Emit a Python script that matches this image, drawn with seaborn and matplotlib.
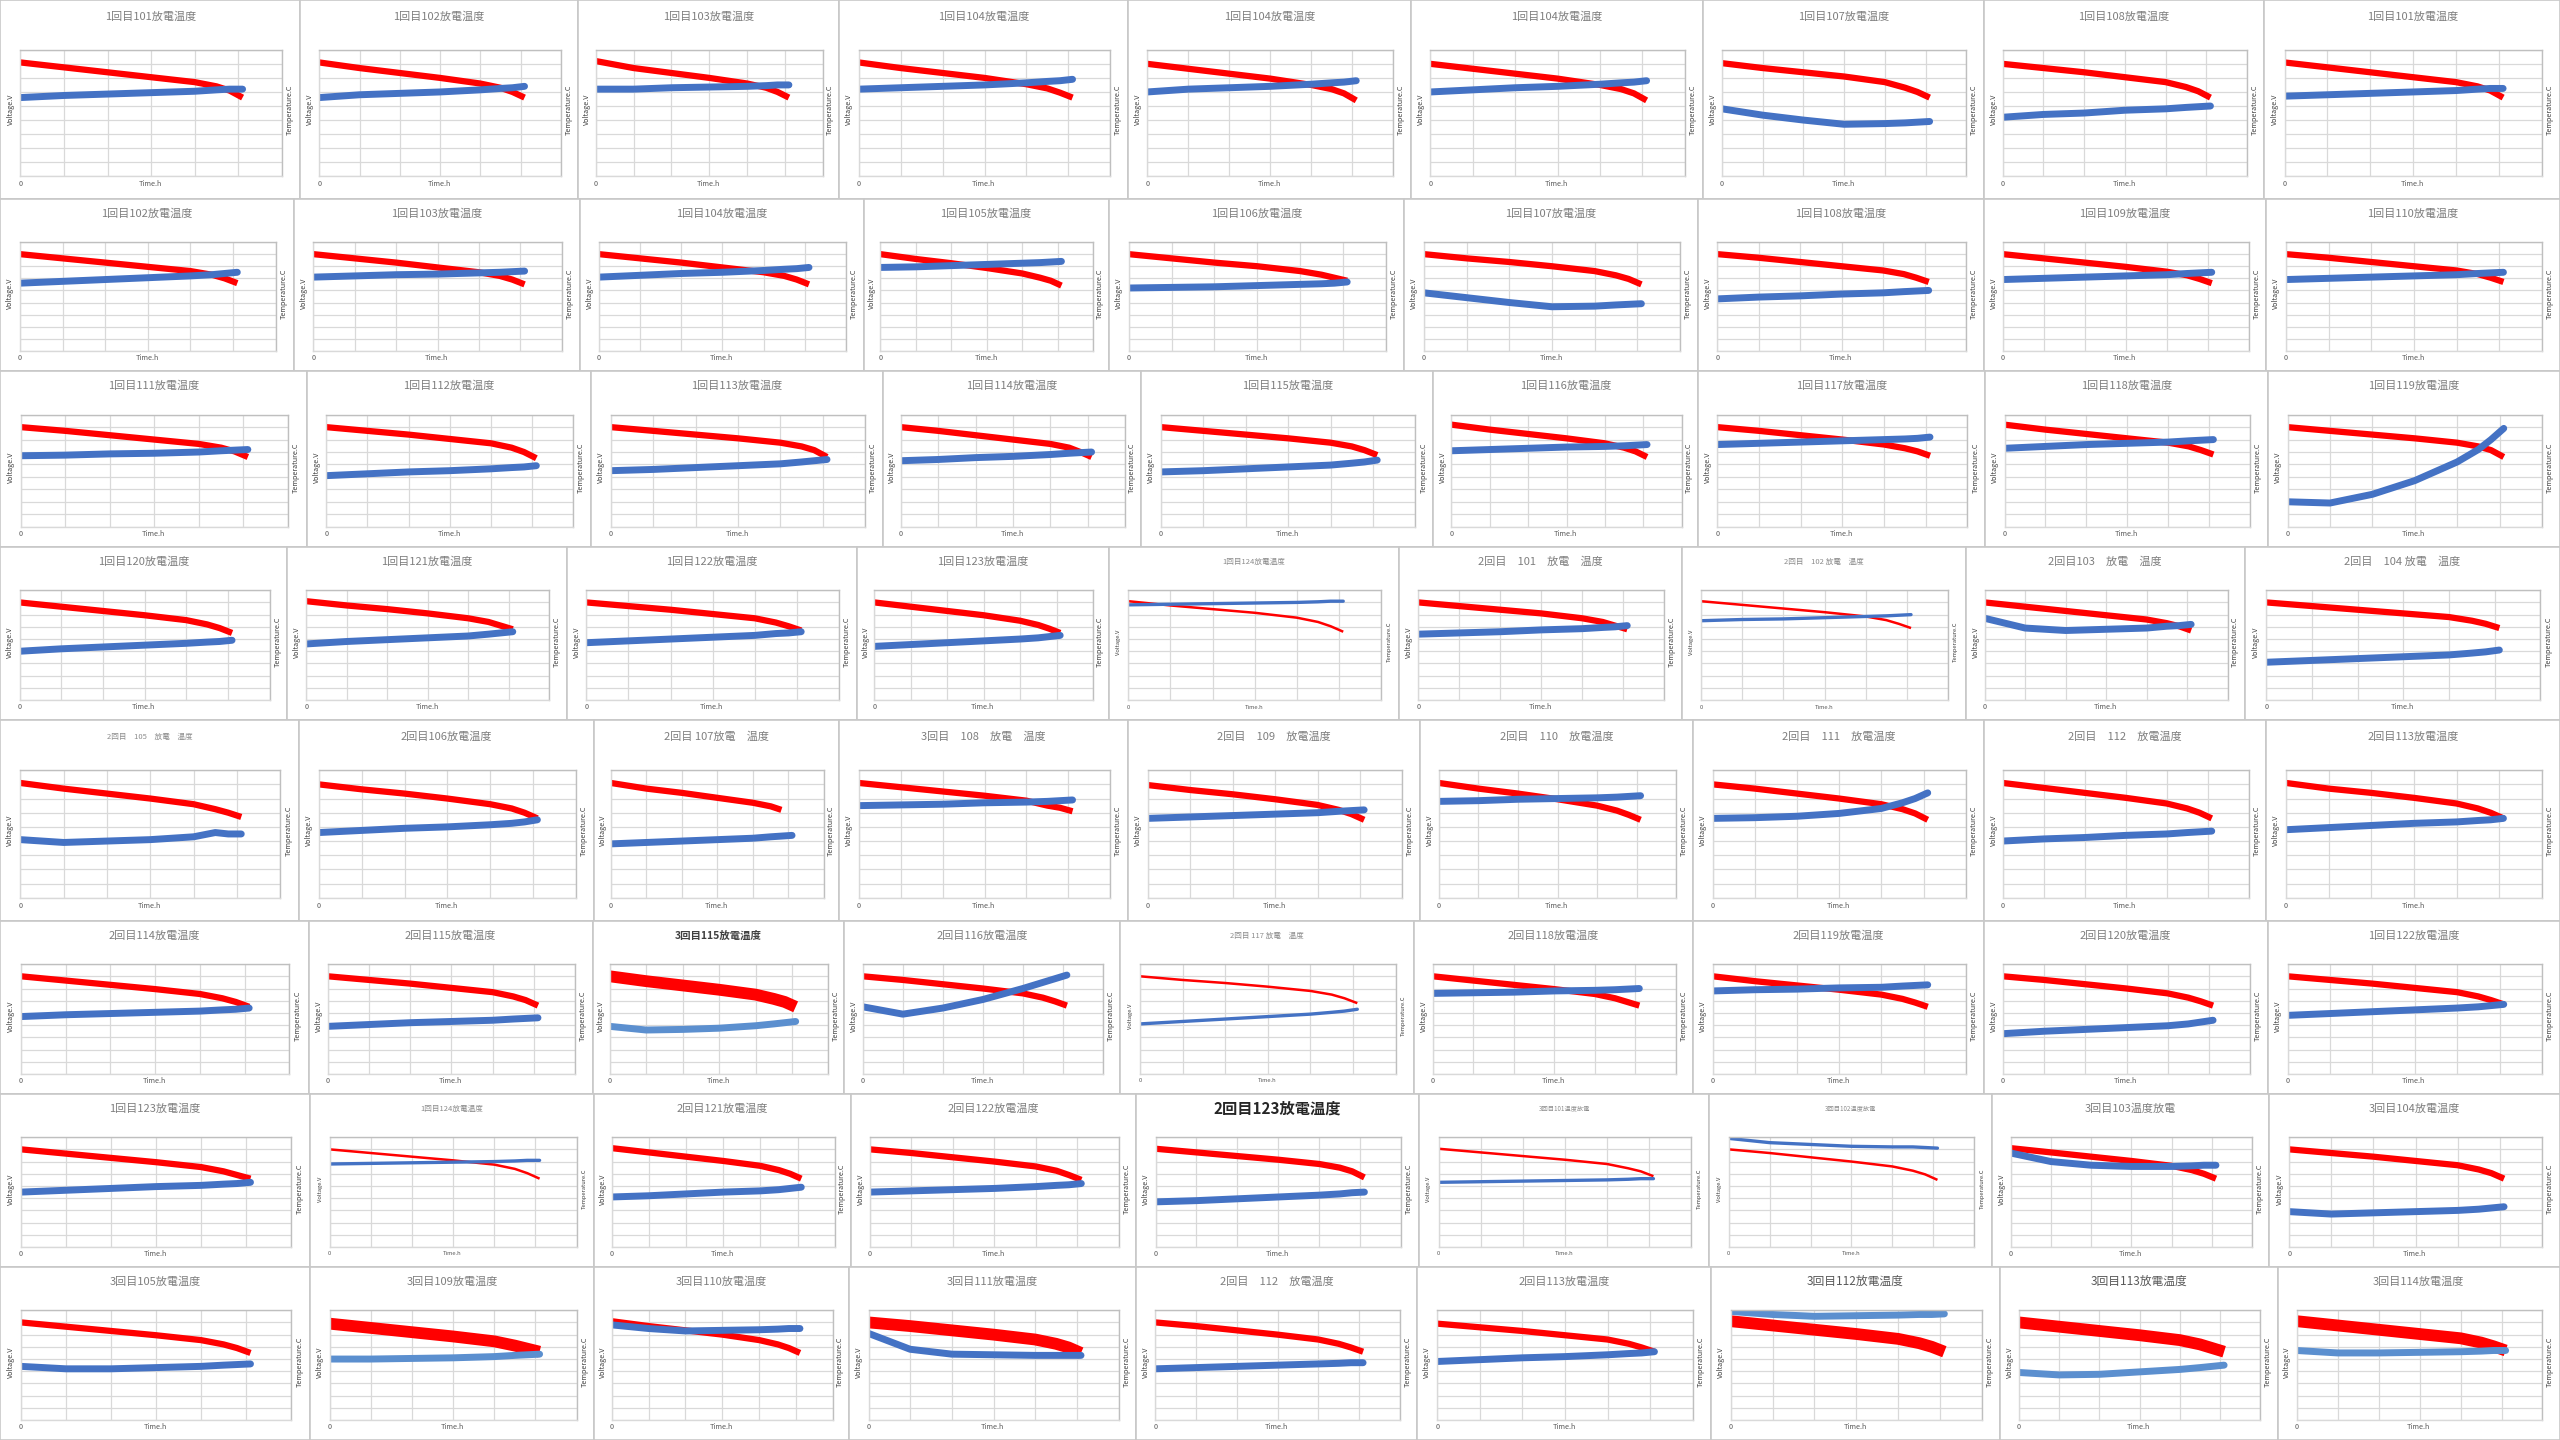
import numpy as np
import pandas as pd
import seaborn as sns
import matplotlib.pyplot as plt

sns.set_theme(style='white')
plt.rcParams['font.family'] = ['Noto Sans CJK JP', 'DejaVu Sans']

# sample times (h) shared by every panel
TIME = [0, 1, 2, 3, 4, 4.5, 4.8, 5.1]

TITLES = [
    '1回目101放電温度', '1回目102放電温度', '1回目103放電温度', '1回目104放電温度', '1回目104放電温度',
    '1回目104放電温度', '1回目107放電温度', '1回目108放電温度', '1回目101放電温度',
    '1回目102放電温度', '1回目103放電温度', '1回目104放電温度', '1回目105放電温度', '1回目106放電温度',
    '1回目107放電温度', '1回目108放電温度', '1回目109放電温度', '1回目110放電温度',
    '1回目111放電温度', '1回目112放電温度', '1回目113放電温度', '1回目114放電温度', '1回目115放電温度',
    '1回目116放電温度', '1回目117放電温度', '1回目118放電温度', '1回目119放電温度',
    '1回目120放電温度', '1回目121放電温度', '1回目122放電温度', '1回目123放電温度', '1回目124放電温度',
    '2回目　101　放電　温度', '2回目　102 放電　温度', '2回目103　放電　温度', '2回目　104 放電　温度',
    '2回目　105　放電　温度', '2回目106放電温度', '2回目 107放電　温度', '3回目　108　放電　温度',
    '2回目　109　放電温度', '2回目　110　放電温度', '2回目　111　放電温度', '2回目　112　放電温度', '2回目113放電温度',
    '2回目114放電温度', '2回目115放電温度', '3回目115放電温度', '2回目116放電温度', '2回目 117 放電　温度',
    '2回目118放電温度', '2回目119放電温度', '2回目120放電温度', '1回目122放電温度',
    '1回目123放電温度', '1回目124放電温度', '2回目121放電温度', '2回目122放電温度', '2回目123放電温度',
    '3回目101温度放電', '3回目102温度放電', '3回目103温度放電', '3回目104放電温度',
    '3回目105放電温度', '3回目109放電温度', '3回目110放電温度', '3回目111放電温度', '2回目　112　放電温度',
    '2回目113放電温度', '3回目112放電温度', '3回目113放電温度', '3回目114放電温度',
]

# voltage (red) in grid units, 0 = bottom gridline, 9 = top
VOLTAGE = [
    [8.1, 7.75, 7.4, 7.05, 6.7, 6.4, 6.1, 5.6], [8.1, 7.7, 7.35, 7.0, 6.6, 6.3, 6.0, 5.6],
    [8.2, 7.7, 7.35, 7.0, 6.6, 6.3, 6.0, 5.6], [8.1, 7.7, 7.35, 7.0, 6.55, 6.25, 5.95, 5.6],
    [8.0, 7.65, 7.3, 6.95, 6.5, 6.2, 5.9, 5.4], [8.0, 7.65, 7.3, 6.95, 6.5, 6.2, 5.9, 5.4],
    [8.05, 7.7, 7.4, 7.1, 6.7, 6.3, 6.0, 5.6], [8.0, 7.7, 7.4, 7.05, 6.7, 6.35, 6.05, 5.6],
    [8.1, 7.75, 7.4, 7.05, 6.7, 6.4, 6.1, 5.6],
    [8.0, 7.65, 7.3, 6.95, 6.6, 6.3, 6.0, 5.6], [8.0, 7.65, 7.3, 6.9, 6.5, 6.2, 5.9, 5.5],
    [8.0, 7.65, 7.3, 6.9, 6.5, 6.2, 5.9, 5.5], [8.0, 7.6, 7.25, 6.85, 6.4, 6.05, 5.8, 5.4],
    [8.0, 7.65, 7.3, 7.0, 6.6, 6.3, 6.05, 5.8], [8.0, 7.65, 7.35, 7.0, 6.6, 6.25, 5.95, 5.5],
    [8.0, 7.7, 7.35, 7.0, 6.65, 6.35, 6.05, 5.7], [8.0, 7.65, 7.3, 6.95, 6.55, 6.25, 5.95, 5.6],
    [8.0, 7.7, 7.35, 7.0, 6.65, 6.35, 6.05, 5.7],
    [8.0, 7.7, 7.35, 7.0, 6.65, 6.35, 6.05, 5.6], [8.0, 7.7, 7.4, 7.05, 6.7, 6.35, 6.0, 5.5],
    [8.0, 7.7, 7.4, 7.1, 6.75, 6.45, 6.15, 5.6], [8.0, 7.7, 7.35, 7.0, 6.65, 6.35, 6.0, 5.6],
    [8.0, 7.7, 7.4, 7.1, 6.75, 6.45, 6.15, 5.75], [8.2, 7.8, 7.45, 7.1, 6.7, 6.35, 6.05, 5.6],
    [8.0, 7.7, 7.35, 7.0, 6.6, 6.3, 6.05, 5.7], [8.2, 7.8, 7.45, 7.1, 6.75, 6.45, 6.15, 5.8],
    [8.0, 7.7, 7.4, 7.1, 6.75, 6.45, 6.15, 5.6],
    [8.0, 7.65, 7.3, 6.95, 6.55, 6.2, 5.9, 5.5], [8.1, 7.75, 7.45, 7.1, 6.7, 6.4, 6.1, 5.8],
    [8.0, 7.7, 7.4, 7.05, 6.7, 6.35, 6.05, 5.7], [8.0, 7.65, 7.3, 6.95, 6.5, 6.15, 5.85, 5.5],
    [8.1, 7.75, 7.45, 7.15, 6.75, 6.4, 6.05, 5.6], [8.0, 7.7, 7.4, 7.1, 6.7, 6.4, 6.1, 5.8],
    [8.1, 7.8, 7.5, 7.2, 6.85, 6.55, 6.25, 5.9], [8.0, 7.65, 7.3, 6.95, 6.6, 6.3, 6.05, 5.7],
    [8.0, 7.7, 7.4, 7.1, 6.8, 6.5, 6.25, 5.9],
    [8.1, 7.7, 7.35, 7.0, 6.6, 6.25, 6.0, 5.7], [8.0, 7.65, 7.35, 7.0, 6.6, 6.3, 6.0, 5.6],
    [8.1, 7.7, 7.4, 7.05, 6.7, 6.45, 6.2, np.nan], [8.1, 7.8, 7.5, 7.2, 6.85, 6.5, 6.35, 6.1],
    [7.95, 7.6, 7.3, 6.95, 6.55, 6.2, 5.9, 5.5], [8.1, 7.7, 7.35, 6.95, 6.5, 6.15, 5.85, 5.5],
    [8.0, 7.7, 7.35, 7.0, 6.6, 6.25, 5.95, 5.5], [8.1, 7.75, 7.4, 7.05, 6.65, 6.3, 6.0, 5.6],
    [8.1, 7.7, 7.4, 7.05, 6.65, 6.3, 6.0, 5.6],
    [8.0, 7.65, 7.3, 6.95, 6.55, 6.2, 5.9, 5.5], [8.0, 7.7, 7.4, 7.05, 6.7, 6.35, 6.05, 5.6],
    [8.0, 7.6, 7.25, 6.9, 6.5, 6.15, 5.9, 5.5], [8.0, 7.7, 7.35, 7.0, 6.6, 6.25, 5.95, 5.6],
    [8.0, 7.7, 7.45, 7.15, 6.8, 6.5, 6.2, 5.8], [8.0, 7.65, 7.3, 6.95, 6.55, 6.2, 5.9, 5.6],
    [8.0, 7.6, 7.25, 6.9, 6.5, 6.15, 5.85, 5.5], [8.0, 7.7, 7.35, 7.0, 6.6, 6.25, 5.95, 5.6],
    [8.0, 7.7, 7.4, 7.05, 6.7, 6.35, 6.05, 5.7],
    [8.0, 7.65, 7.3, 6.95, 6.55, 6.2, 5.9, 5.6], [8.0, 7.7, 7.4, 7.1, 6.75, 6.4, 6.05, 5.6],
    [8.1, 7.75, 7.4, 7.05, 6.65, 6.3, 6.0, 5.6], [8.0, 7.7, 7.35, 7.0, 6.6, 6.25, 5.9, 5.5],
    [8.05, 7.75, 7.45, 7.15, 6.8, 6.5, 6.2, 5.7], [8.05, 7.75, 7.45, 7.15, 6.8, 6.45, 6.2, 5.8],
    [8.0, 7.7, 7.35, 7.0, 6.6, 6.25, 5.95, 5.5], [8.1, 7.75, 7.4, 7.05, 6.65, 6.3, 6.0, 5.6],
    [8.0, 7.7, 7.4, 7.05, 6.7, 6.35, 6.05, 5.6],
    [8.0, 7.65, 7.3, 6.95, 6.55, 6.2, 5.9, 5.5], [7.9, 7.55, 7.2, 6.85, 6.45, 6.1, 5.85, 5.6],
    [8.1, 7.7, 7.35, 7.0, 6.55, 6.2, 5.9, 5.5], [8.0, 7.7, 7.35, 7.0, 6.6, 6.25, 5.95, 5.5],
    [8.0, 7.7, 7.35, 7.0, 6.6, 6.25, 5.95, 5.6], [7.9, 7.6, 7.3, 6.95, 6.6, 6.25, 5.95, 5.6],
    [8.1, 7.75, 7.4, 7.05, 6.65, 6.3, 6.0, 5.6], [8.0, 7.65, 7.3, 6.95, 6.55, 6.2, 5.9, 5.6],
    [8.1, 7.75, 7.4, 7.05, 6.7, 6.35, 6.05, 5.7],
]

# temperature (blue) in the same grid units
TEMPERATURE = [
    [5.6, 5.75, 5.85, 5.95, 6.05, 6.15, 6.2, 6.2], [5.6, 5.8, 5.9, 6.0, 6.15, 6.25, 6.3, 6.4],
    [6.2, 6.2, 6.3, 6.35, 6.4, 6.45, 6.5, 6.5], [6.2, 6.3, 6.4, 6.5, 6.65, 6.75, 6.8, 6.9],
    [6.0, 6.2, 6.3, 6.4, 6.55, 6.65, 6.7, 6.8], [6.0, 6.15, 6.3, 6.4, 6.55, 6.65, 6.7, 6.8],
    [4.8, 4.35, 4.0, 3.7, 3.75, 3.8, 3.85, 3.9], [4.2, 4.4, 4.5, 4.7, 4.8, 4.9, 4.95, 5.0],
    [5.7, 5.8, 5.9, 6.0, 6.1, 6.2, 6.25, 6.25],
    [5.6, 5.75, 5.9, 6.05, 6.2, 6.3, 6.4, 6.5], [6.1, 6.2, 6.3, 6.35, 6.45, 6.5, 6.55, 6.6],
    [6.1, 6.25, 6.4, 6.5, 6.65, 6.75, 6.8, 6.9], [6.9, 6.95, 7.05, 7.15, 7.25, 7.3, 7.35, 7.4],
    [5.2, 5.25, 5.3, 5.4, 5.5, 5.55, 5.6, 5.7], [4.8, 4.4, 4.0, 3.65, 3.7, 3.8, 3.85, 3.9],
    [4.3, 4.45, 4.55, 4.7, 4.8, 4.9, 4.95, 5.0], [5.9, 6.0, 6.1, 6.2, 6.3, 6.4, 6.45, 6.5],
    [5.9, 6.0, 6.1, 6.2, 6.3, 6.4, 6.45, 6.5],
    [5.7, 5.75, 5.85, 5.9, 6.0, 6.1, 6.15, 6.2], [4.1, 4.25, 4.4, 4.5, 4.65, 4.75, 4.8, 4.9],
    [4.5, 4.6, 4.75, 4.9, 5.05, 5.2, 5.3, 5.4], [5.3, 5.4, 5.55, 5.65, 5.8, 5.9, 5.95, 6.0],
    [4.4, 4.5, 4.65, 4.8, 4.95, 5.1, 5.2, 5.35], [6.1, 6.2, 6.3, 6.4, 6.45, 6.5, 6.55, 6.6],
    [6.6, 6.7, 6.8, 6.9, 7.0, 7.05, 7.1, 7.2], [6.3, 6.45, 6.6, 6.7, 6.8, 6.9, 6.95, 7.0],
    [2.0, 1.9, 2.6, 3.7, 5.2, 6.2, 7.0, 7.9],
    [4.0, 4.2, 4.35, 4.5, 4.65, 4.75, 4.8, 4.9], [4.6, 4.8, 4.95, 5.1, 5.25, 5.4, 5.5, 5.6],
    [4.7, 4.85, 5.0, 5.15, 5.3, 5.45, 5.5, 5.6], [4.4, 4.55, 4.7, 4.85, 5.0, 5.1, 5.2, 5.3],
    [7.8, 7.85, 7.9, 7.95, 8.0, 8.05, 8.1, 8.1], [5.4, 5.5, 5.6, 5.75, 5.85, 5.95, 6.0, 6.1],
    [6.5, 6.6, 6.65, 6.75, 6.85, 6.9, 6.95, 7.0], [6.7, 5.9, 5.7, 5.8, 5.9, 6.05, 6.1, 6.2],
    [3.1, 3.25, 3.4, 3.55, 3.7, 3.85, 3.95, 4.1],
    [4.1, 3.9, 4.0, 4.1, 4.3, 4.6, 4.5, 4.5], [4.6, 4.75, 4.9, 5.0, 5.15, 5.25, 5.35, 5.5],
    [3.8, 3.9, 4.0, 4.1, 4.2, 4.3, 4.35, 4.4], [6.5, 6.55, 6.6, 6.7, 6.75, 6.8, 6.85, 6.9],
    [5.6, 5.7, 5.8, 5.9, 6.0, 6.1, 6.15, 6.2], [6.8, 6.85, 6.95, 7.0, 7.05, 7.1, 7.15, 7.2],
    [5.6, 5.65, 5.75, 5.95, 6.3, 6.7, 7.0, 7.4], [4.0, 4.15, 4.25, 4.4, 4.5, 4.6, 4.65, 4.7],
    [4.8, 4.95, 5.1, 5.25, 5.35, 5.45, 5.5, 5.6],
    [4.7, 4.85, 4.95, 5.05, 5.15, 5.25, 5.3, 5.4], [3.9, 4.05, 4.2, 4.3, 4.4, 4.5, 4.55, 4.6],
    [3.9, 3.6, 3.65, 3.75, 3.95, 4.1, 4.2, 4.3], [5.5, 4.9, 5.4, 6.1, 7.0, 7.5, 7.8, 8.1],
    [4.1, 4.3, 4.5, 4.7, 4.9, 5.05, 5.15, 5.3], [6.6, 6.65, 6.7, 6.8, 6.85, 6.9, 6.95, 7.0],
    [6.8, 6.9, 6.95, 7.05, 7.1, 7.2, 7.25, 7.3], [3.3, 3.5, 3.65, 3.8, 3.95, 4.1, 4.25, 4.4],
    [4.8, 4.95, 5.1, 5.25, 5.4, 5.5, 5.6, 5.7],
    [4.5, 4.65, 4.8, 4.95, 5.05, 5.15, 5.2, 5.3], [6.8, 6.85, 6.9, 6.95, 7.0, 7.05, 7.1, 7.1],
    [4.1, 4.2, 4.35, 4.5, 4.6, 4.7, 4.8, 4.9], [4.5, 4.6, 4.7, 4.8, 4.95, 5.05, 5.1, 5.2],
    [3.7, 3.8, 3.95, 4.1, 4.25, 4.35, 4.45, 4.5], [5.3, 5.35, 5.4, 5.45, 5.5, 5.55, 5.6, 5.6],
    [8.9, 8.55, 8.4, 8.25, 8.2, 8.2, 8.15, 8.1], [7.7, 7.0, 6.7, 6.6, 6.6, 6.65, 6.7, 6.7],
    [2.9, 2.7, 2.8, 2.9, 3.0, 3.1, 3.2, 3.3],
    [4.4, 4.2, 4.2, 4.3, 4.4, 4.5, 4.55, 4.6], [5.0, 5.0, 5.05, 5.1, 5.2, 5.3, 5.35, 5.4],
    [7.8, 7.5, 7.3, 7.35, 7.4, 7.45, 7.5, 7.5], [7.1, 5.8, 5.4, 5.35, 5.3, 5.3, 5.3, 5.3],
    [4.2, 4.3, 4.4, 4.5, 4.6, 4.65, 4.7, 4.7], [4.8, 4.95, 5.1, 5.2, 5.35, 5.45, 5.5, 5.6],
    [8.9, 8.65, 8.5, 8.55, 8.6, 8.65, 8.65, 8.7], [3.9, 3.7, 3.75, 3.95, 4.15, 4.3, 4.4, 4.5],
    [5.7, 5.5, 5.5, 5.55, 5.6, 5.65, 5.7, 5.7],
]

# ---- layout (pixels of a 1568x882 canvas) ----
ROW_EDGES = [0, 122, 227, 335, 441, 564, 670, 776, 882]
COL_EDGES = [
    [0, 184, 354, 514, 691, 864, 1043, 1215, 1387, 1568],
    [0, 180, 355, 529, 679, 860, 1040, 1215, 1388, 1568],
    [0, 188, 362, 541, 699, 878, 1040, 1216, 1389, 1568],
    [0, 176, 347, 525, 679, 857, 1030, 1204, 1375, 1568],
    [0, 183, 364, 514, 691, 870, 1037, 1215, 1388, 1568],
    [0, 189, 363, 517, 686, 866, 1037, 1215, 1389, 1568],
    [0, 190, 364, 521, 696, 869, 1047, 1220, 1390, 1568],
    [0, 190, 364, 520, 696, 868, 1048, 1225, 1395, 1568],
]

# styles: line weight code and title code per panel
THIN = {31, 33, 49, 55, 59, 60}
THICK = {47, 64, 66, 69, 70, 71}
LIGHT_BLUE = {47, 64, 69, 70, 71}
TITLE_SMALL = {31, 33, 36, 49, 55}
TITLE_TINY = {59, 60}
TITLE_BOLD = {47}
TITLE_BIG = {58}
TITLE_DARK = {69, 70}

W, H = 1568, 882
fig = plt.figure(figsize=(25.6, 14.4), dpi=100)

for i in range(72):
    r, c = divmod(i, 9)
    x0 = COL_EDGES[r][c] / W
    w = (COL_EDGES[r][c + 1] - COL_EDGES[r][c]) / W
    yb = 1 - ROW_EDGES[r + 1] / H
    h = (ROW_EDGES[r + 1] - ROW_EDGES[r]) / H

    frame = fig.add_axes([x0, yb, w, h])
    frame.set_xticks([])
    frame.set_yticks([])
    frame.set_facecolor('white')
    for s in frame.spines.values():
        s.set_color('#c8c8c8')
        s.set_linewidth(1.2)

    if i in TITLE_BIG:
        tkw = dict(fontsize=11, color='#262626', fontweight='bold')
    elif i in TITLE_BOLD:
        tkw = dict(fontsize=7.5, color='#404040', fontweight='bold')
    elif i in TITLE_DARK:
        tkw = dict(fontsize=8.5, color='#595959')
    elif i in TITLE_TINY:
        tkw = dict(fontsize=4.5, color='#8c8c8c')
    elif i in TITLE_SMALL:
        tkw = dict(fontsize=5.5, color='#8c8c8c')
    else:
        tkw = dict(fontsize=8, color='#7f7f7f')
    frame.text(0.5, 0.915, TITLES[i], ha='center', va='center', transform=frame.transAxes, **tkw)

    lab = 4.2 if i in THIN else 5.2
    frame.text(0.035, 0.45, 'Voltage.V', rotation=90, ha='center', va='center',
               fontsize=lab, color='#404040', transform=frame.transAxes)
    frame.text(0.965, 0.45, 'Temperature.C', rotation=90, ha='center', va='center',
               fontsize=lab, color='#404040', transform=frame.transAxes)
    frame.text(0.068, 0.075, '0', ha='center', va='center',
               fontsize=lab, color='#595959', transform=frame.transAxes)
    frame.text(0.5, 0.075, 'Time.h', ha='center', va='center',
               fontsize=lab, color='#595959', transform=frame.transAxes)

    ax = fig.add_axes([x0 + 0.068 * w, yb + 0.115 * h, 0.87 * w, 0.635 * h])
    df = pd.DataFrame({'t': TIME, 'v': VOLTAGE[i], 'c': TEMPERATURE[i]})

    red_lw = 8.5 if i in THICK else (1.8 if i in THIN else 4.5)
    blue_lw = 2.4 if i in THIN else 5.0
    blue = '#5b8fcf' if i in LIGHT_BLUE else '#4472c4'

    sns.lineplot(data=df.dropna(subset=['v']), x='t', y='v', ax=ax,
                 color='#ff0000', linewidth=red_lw, solid_capstyle='butt')
    sns.lineplot(data=df, x='t', y='c', ax=ax,
                 color=blue, linewidth=blue_lw, solid_capstyle='round')

    ax.set_xlim(0, 6)
    ax.set_ylim(0, 9)
    ax.set_xticks(range(7))
    ax.set_yticks(range(10))
    ax.grid(True, color='#d9d9d9', linewidth=0.9)
    ax.tick_params(length=0, labelleft=False, labelbottom=False)
    ax.set_xlabel('')
    ax.set_ylabel('')
    for name, s in ax.spines.items():
        s.set_color('#bfbfbf' if name in ('top', 'right') else '#d9d9d9')
        s.set_linewidth(1.0)

fig.savefig('out.png', dpi=100)
